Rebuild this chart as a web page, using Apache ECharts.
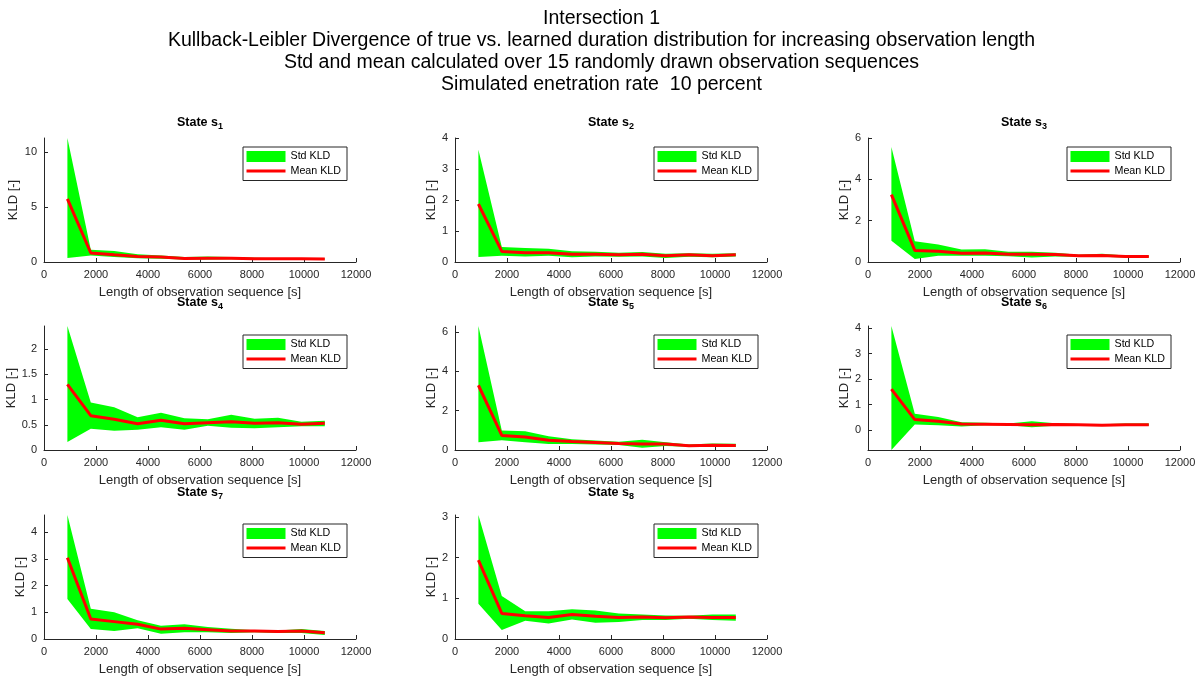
<!DOCTYPE html>
<html>
<head>
<meta charset="utf-8">
<script src="https://cdn.jsdelivr.net/npm/echarts@6/dist/echarts.min.js"></script>
<style>
html, body { margin: 0; padding: 0; background: #fff; }
#main { width: 1203px; height: 679px; }
</style>
</head>
<body>
<div id="main"></div>
<script>
// observation lengths [s]
var obsLength = [900, 1800, 2700, 3600, 4500, 5400, 6300, 7200, 8100, 9000, 9900, 10800];

// KLD per state: mean and the std band (lower / upper edge)
var meanS1  = [5.76, 0.82, 0.65, 0.50, 0.45, 0.33, 0.35, 0.35, 0.30, 0.30, 0.30, 0.28];
var upperS1 = [11.3, 1.12, 1.00, 0.70, 0.60, 0.45, 0.50, 0.45, 0.38, 0.35, 0.35, 0.33];
var lowerS1 = [0.36, 0.60, 0.45, 0.35, 0.30, 0.22, 0.22, 0.25, 0.22, 0.22, 0.22, 0.22];

var meanS2  = [1.87, 0.34, 0.30, 0.30, 0.25, 0.25, 0.23, 0.25, 0.20, 0.23, 0.20, 0.23];
var upperS2 = [3.62, 0.48, 0.45, 0.43, 0.35, 0.33, 0.30, 0.32, 0.27, 0.28, 0.27, 0.28];
var lowerS2 = [0.16, 0.20, 0.18, 0.20, 0.15, 0.18, 0.17, 0.18, 0.13, 0.17, 0.15, 0.18];

var meanS3  = [3.26, 0.56, 0.52, 0.42, 0.43, 0.38, 0.37, 0.36, 0.30, 0.32, 0.27, 0.27];
var upperS3 = [5.56, 1.00, 0.85, 0.60, 0.62, 0.50, 0.50, 0.45, 0.35, 0.40, 0.32, 0.32];
var lowerS3 = [1.03, 0.14, 0.30, 0.30, 0.30, 0.28, 0.22, 0.27, 0.25, 0.25, 0.22, 0.22];

var meanS4  = [1.30, 0.68, 0.61, 0.52, 0.59, 0.52, 0.54, 0.56, 0.53, 0.54, 0.51, 0.53];
var upperS4 = [2.46, 0.94, 0.85, 0.65, 0.74, 0.63, 0.61, 0.70, 0.62, 0.64, 0.56, 0.58];
var lowerS4 = [0.16, 0.42, 0.38, 0.40, 0.45, 0.40, 0.48, 0.44, 0.43, 0.45, 0.47, 0.47];

var meanS5  = [3.29, 0.74, 0.66, 0.50, 0.43, 0.38, 0.33, 0.30, 0.30, 0.22, 0.24, 0.23];
var upperS5 = [6.30, 0.99, 0.95, 0.70, 0.55, 0.48, 0.42, 0.52, 0.40, 0.28, 0.33, 0.32];
var lowerS5 = [0.40, 0.50, 0.40, 0.30, 0.30, 0.28, 0.26, 0.12, 0.20, 0.17, 0.15, 0.15];

var meanS6  = [1.61, 0.42, 0.35, 0.25, 0.24, 0.23, 0.22, 0.23, 0.22, 0.20, 0.22, 0.22];
var upperS6 = [4.08, 0.65, 0.52, 0.32, 0.30, 0.27, 0.35, 0.28, 0.25, 0.24, 0.27, 0.27];
var lowerS6 = [-0.77, 0.23, 0.20, 0.15, 0.20, 0.20, 0.12, 0.18, 0.20, 0.18, 0.18, 0.18];

var meanS7  = [3.04, 0.75, 0.65, 0.55, 0.37, 0.40, 0.35, 0.30, 0.30, 0.28, 0.30, 0.23];
var upperS7 = [4.64, 1.13, 1.00, 0.70, 0.50, 0.55, 0.45, 0.38, 0.33, 0.32, 0.37, 0.30];
var lowerS7 = [1.50, 0.37, 0.30, 0.40, 0.20, 0.25, 0.25, 0.22, 0.25, 0.22, 0.22, 0.15];

var meanS8  = [1.94, 0.63, 0.57, 0.53, 0.60, 0.56, 0.53, 0.54, 0.52, 0.54, 0.53, 0.53];
var upperS8 = [3.05, 1.06, 0.68, 0.68, 0.73, 0.70, 0.63, 0.60, 0.58, 0.57, 0.60, 0.60];
var lowerS8 = [0.87, 0.22, 0.45, 0.38, 0.48, 0.40, 0.42, 0.47, 0.47, 0.50, 0.47, 0.45];

// y axis limits and ticks per state
var yLimits = [[0, 11.3], [0, 4], [0, 6], [0, 2.46], [0, 6.3], [-0.77, 4.08], [0, 4.64], [0, 3.05]];
var yTicks = [
    [0, 5, 10],
    [0, 1, 2, 3, 4],
    [0, 2, 4, 6],
    [0, 0.5, 1, 1.5, 2],
    [0, 2, 4, 6],
    [0, 1, 2, 3, 4],
    [0, 1, 2, 3, 4],
    [0, 1, 2, 3]
];
var xMax = 12000;
var xStep = 2000;

var titleLines = [
    'Intersection 1',
    'Kullback-Leibler Divergence of true vs. learned duration distribution for increasing observation length',
    'Std and mean calculated over 15 randomly drawn observation sequences',
    'Simulated enetration rate  10 percent'
];

var meanAll = [meanS1, meanS2, meanS3, meanS4, meanS5, meanS6, meanS7, meanS8];
var upperAll = [upperS1, upperS2, upperS3, upperS4, upperS5, upperS6, upperS7, upperS8];
var lowerAll = [lowerS1, lowerS2, lowerS3, lowerS4, lowerS5, lowerS6, lowerS7, lowerS8];

// layout (px)
var W = 1203;
var colLeft = [44, 455, 868];
var plotW = 312;
var rowTop = [138, 326, 515];
var plotH = 124;
var titleY = [124, 304, 494];
var font = '"Liberation Sans", Arial, Helvetica, sans-serif';
var axisColor = '#262626';

var myChart = echarts.init(document.getElementById('main'));

var grids = [], xAxes = [], yAxes = [], series = [], legends = [], graphics = [];

// std band drawn as one polygon: upper edge forward, lower edge back
function bandRenderer(params, api) {
    if (params.dataIndex !== 0) {
        return;
    }
    var n = params.dataInsideLength;
    var pts = [];
    var k;
    for (k = 0; k < n; k++) {
        pts.push(api.coord([api.value(0, k), api.value(2, k)]));
    }
    for (k = n - 1; k >= 0; k--) {
        pts.push(api.coord([api.value(0, k), api.value(1, k)]));
    }
    return {
        type: 'polygon',
        shape: { points: pts },
        style: { fill: '#00ff00', stroke: null }
    };
}

for (var i = 0; i < 8; i++) {
    var col = i % 3;
    var row = Math.floor(i / 3);
    var gx = colLeft[col];
    var gy = rowTop[row];
    // wide tick labels push the y label further out
    var wide = yTicks[i].some(function (t) { return String(t).length > 1; });

    grids.push({ left: gx, top: gy, width: plotW, height: plotH, containLabel: false });

    xAxes.push({
        gridIndex: i, type: 'value', min: 0, max: xMax, interval: xStep,
        name: 'Length of observation sequence [s]', nameLocation: 'middle', nameGap: 24,
        nameTextStyle: { fontSize: 13, color: axisColor, fontFamily: font },
        axisLine: { onZero: false, lineStyle: { color: axisColor, width: 1 } },
        axisTick: { inside: true, length: 4, lineStyle: { color: axisColor } },
        axisLabel: {
            margin: 7, fontSize: 11, color: axisColor, fontFamily: font,
            formatter: function (v) { return String(v); }
        },
        splitLine: { show: false }
    });

    yAxes.push({
        gridIndex: i, type: 'value', min: yLimits[i][0], max: yLimits[i][1],
        name: 'KLD [-]', nameLocation: 'middle', nameGap: wide ? 24 : 16,
        nameTextStyle: { fontSize: 13, color: axisColor, fontFamily: font },
        axisLine: { show: true, onZero: false, lineStyle: { color: axisColor, width: 1 } },
        axisTick: { show: true, inside: true, length: 4, lineStyle: { color: axisColor }, customValues: yTicks[i] },
        axisLabel: { margin: 7, fontSize: 11, color: axisColor, fontFamily: font, customValues: yTicks[i] },
        splitLine: { show: false }
    });

    var bandData = [], meanData = [];
    for (var k = 0; k < obsLength.length; k++) {
        bandData.push([obsLength[k], lowerAll[i][k], upperAll[i][k]]);
        meanData.push([obsLength[k], meanAll[i][k]]);
    }

    series.push({
        name: 'Std KLD', type: 'custom', xAxisIndex: i, yAxisIndex: i, data: bandData,
        renderItem: bandRenderer, silent: true, clip: true,
        encode: { x: 0, y: [1, 2] },
        itemStyle: { color: '#00ff00' }
    });
    series.push({
        name: 'Mean KLD', type: 'line', xAxisIndex: i, yAxisIndex: i, data: meanData,
        symbol: 'none', silent: true, z: 3, color: '#ff0000',
        lineStyle: { color: '#ff0000', width: 3 }
    });

    legends.push({
        orient: 'vertical', right: W - (gx + plotW - 9), top: gy + 9,
        itemWidth: 39, itemHeight: 11, itemGap: 3.5, itemTextGap: 3,
        padding: [4, 6, 4, 2],
        borderColor: axisColor, borderWidth: 1, backgroundColor: '#fff',
        selectedMode: false,
        textStyle: { fontSize: 10.7, color: '#000', fontFamily: font },
        data: [
            { name: 'Std KLD', icon: 'rect', itemStyle: { color: '#00ff00' } },
            { name: 'Mean KLD', itemStyle: { opacity: 0 }, lineStyle: { width: 3, color: '#ff0000' } }
        ]
    });

    graphics.push({
        type: 'text', x: gx + plotW / 2, y: titleY[row],
        style: {
            text: '{t|State s}{s|' + (i + 1) + '}',
            align: 'center', verticalAlign: 'middle',
            rich: {
                t: { fontSize: 12.5, fontWeight: 'bold', fontFamily: font, fill: '#000', verticalAlign: 'top' },
                s: { fontSize: 9, fontWeight: 'bold', fontFamily: font, fill: '#000', verticalAlign: 'bottom', padding: [6, 0, 0, 0] }
            }
        }
    });
}

var option = {
    animation: false,
    backgroundColor: '#fff',
    title: {
        text: titleLines.join('\n'),
        left: 'center', top: 7, padding: 0,
        textStyle: { fontSize: 19.5, fontWeight: 'normal', color: '#000', lineHeight: 22.3, fontFamily: font }
    },
    grid: grids,
    xAxis: xAxes,
    yAxis: yAxes,
    legend: legends,
    graphic: graphics,
    series: series
};

myChart.setOption(option);
</script>
</body>
</html>
